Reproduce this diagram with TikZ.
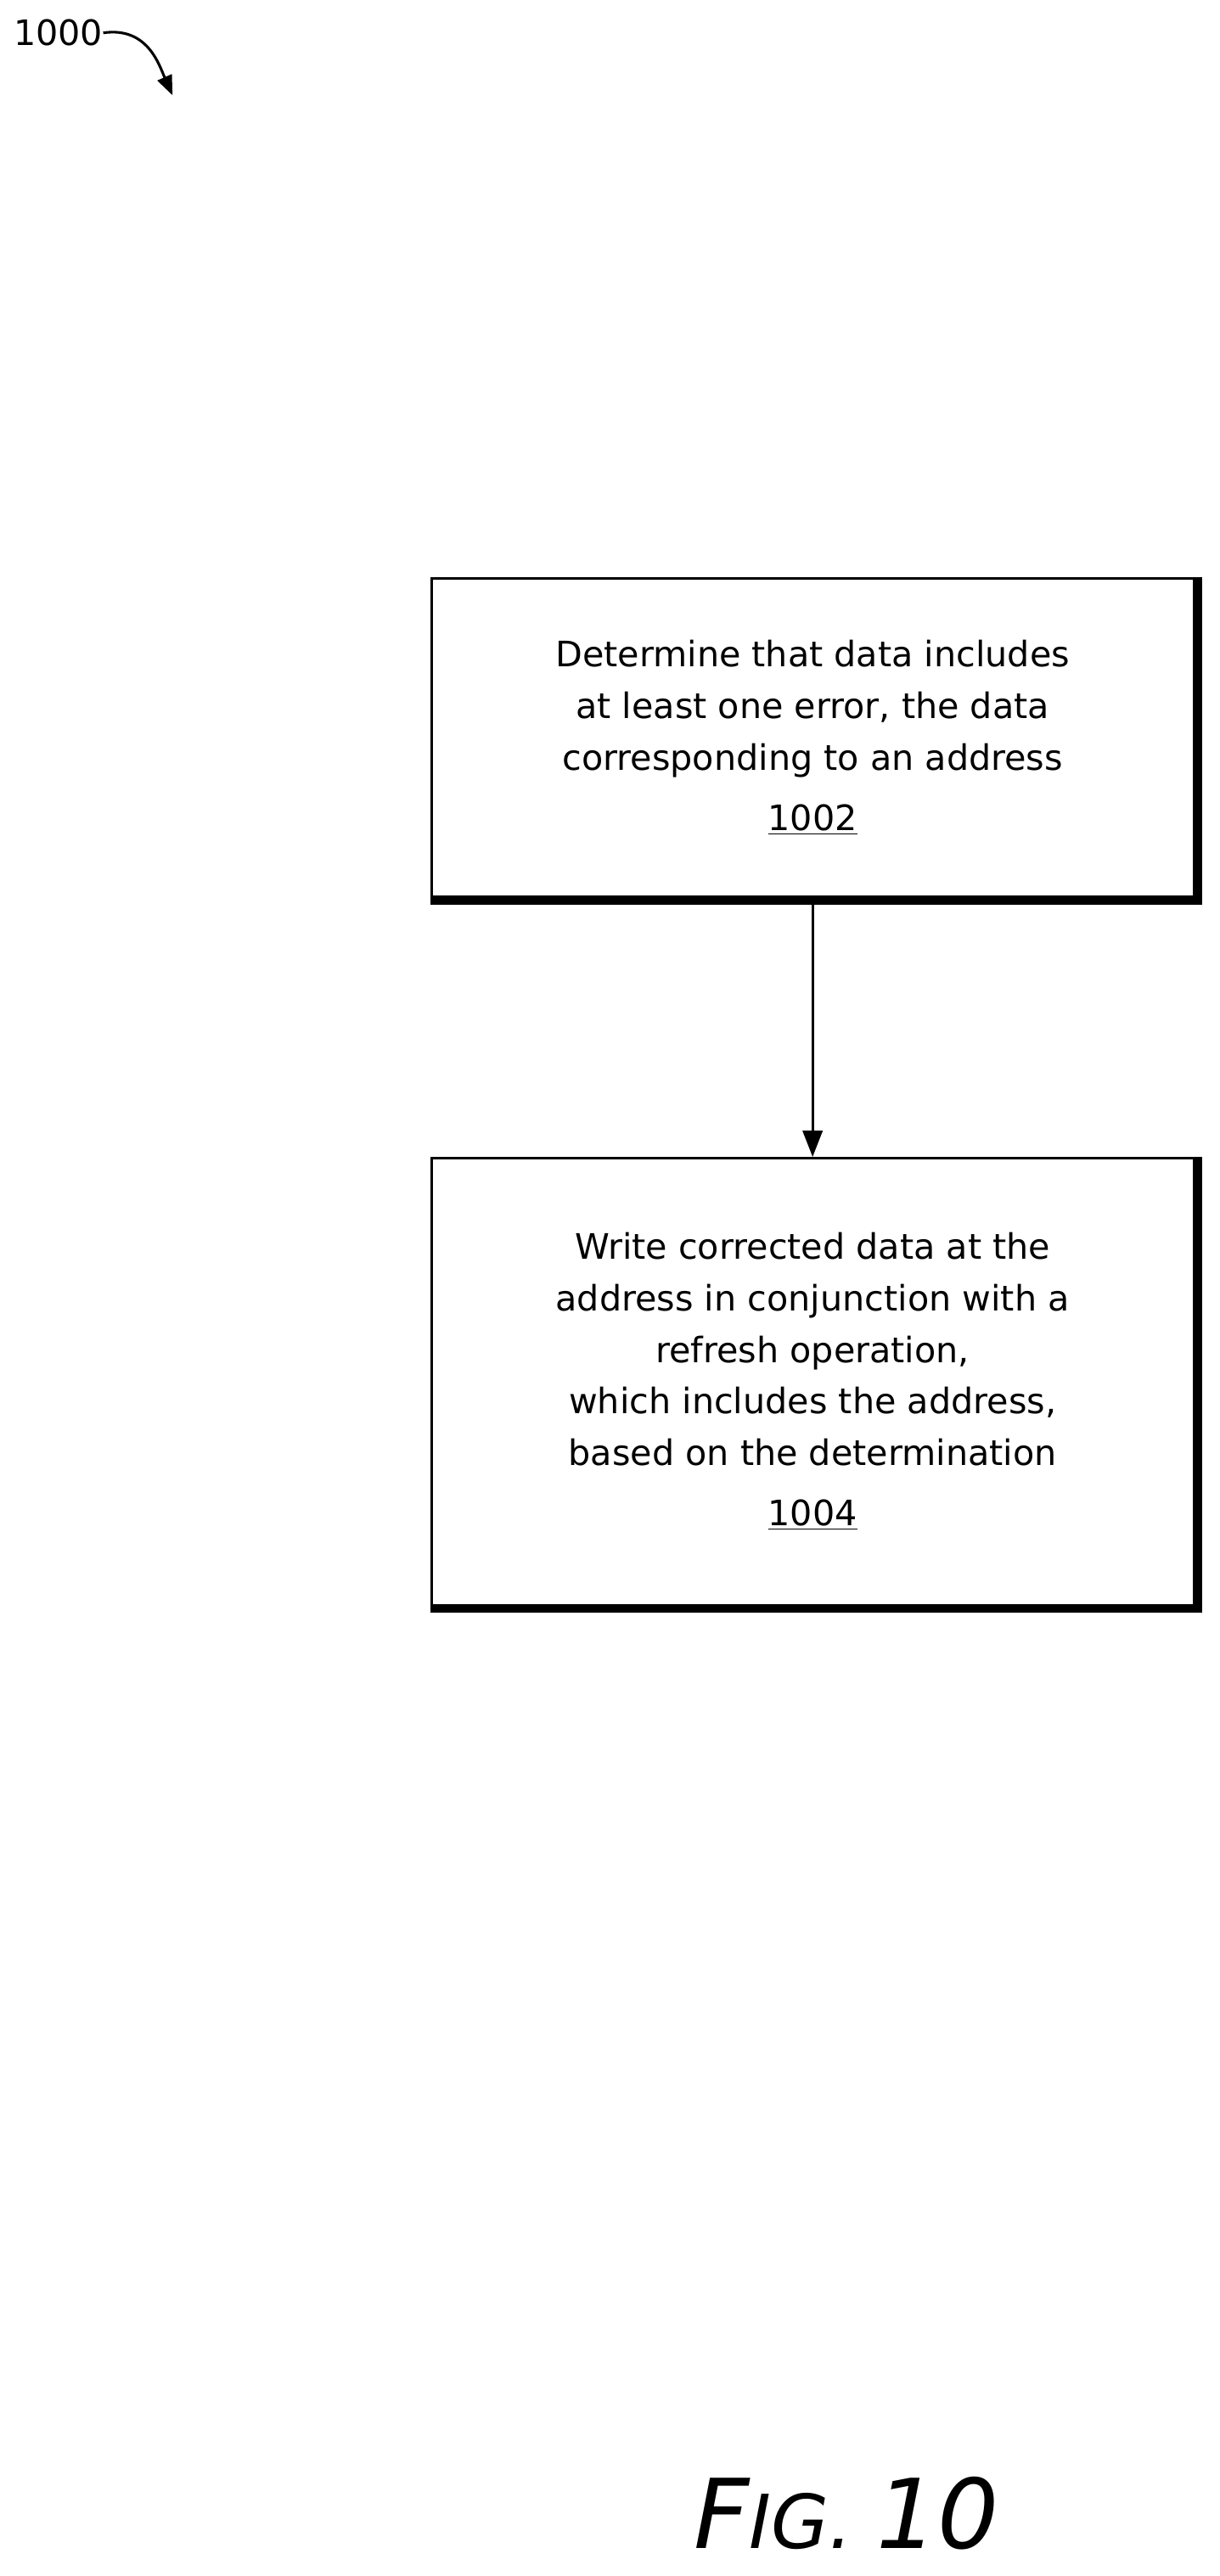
\documentclass[tikz,border=0pt]{standalone}
\usepackage{fontspec}
\setmainfont{DejaVu Sans}
\usetikzlibrary{arrows.meta}
\usetikzlibrary{positioning}

\begin{document}
\begin{tikzpicture}[x = 0.75pt, y = -0.75pt]
	\tikzstyle{stepBox} = [draw, line width = 1.2pt, minimum width = 348pt, align = center, font = \fontsize{16}{23.5}\selectfont]
	\tikzstyle{shadowLine} = [line width = 3pt]
	\tikzstyle{flowArrow} = [line width = 1.2pt, -{Triangle[length = 12pt, width = 9pt]}]
	\useasboundingbox (0,0) rectangle (742,1568);
	\node[stepBox, minimum height = 145.5pt] (s1002) at (494.5,449) {Determine that data includes\\at least one error, the data\\corresponding to an address\\[4pt]\underline{1002}};
	\node[stepBox, minimum height = 204pt] (s1004) at (494.5,841) {Write corrected data at the\\address in conjunction with a\\refresh operation,\\which includes the address,\\based on the determination\\[4pt]\underline{1004}};
	\draw[shadowLine] ([xshift = 1.5pt]s1002.north east) -- ([xshift = 1.5pt, yshift = -1.5pt]s1002.south east) -- ([yshift = -1.5pt]s1002.south west);
	\draw[shadowLine] ([xshift = 1.5pt]s1004.north east) -- ([xshift = 1.5pt, yshift = -1.5pt]s1004.south east) -- ([yshift = -1.5pt]s1004.south west);
	\draw[flowArrow] ([yshift = -2pt]s1002.south) -- (s1004.north);
	\node[font = \fontsize{16}{18}\selectfont, inner sep = 0pt, anchor = west] (fig1000) at (8,20) {1000};
	\coordinate (fig1000end) at (105,58);
	\draw[line width = 1.2pt, -{Triangle[length = 9pt, width = 7pt]}] (fig1000.east) .. controls (90,16) and (97,40) .. (fig1000end);
	\node[font = \itshape\fontsize{44}{50}\selectfont] (figlabel) at (515,1530) {F\fontsize{34}{40}\selectfont IG. \fontsize{44}{50}\selectfont 10};
\end{tikzpicture}
\end{document}
